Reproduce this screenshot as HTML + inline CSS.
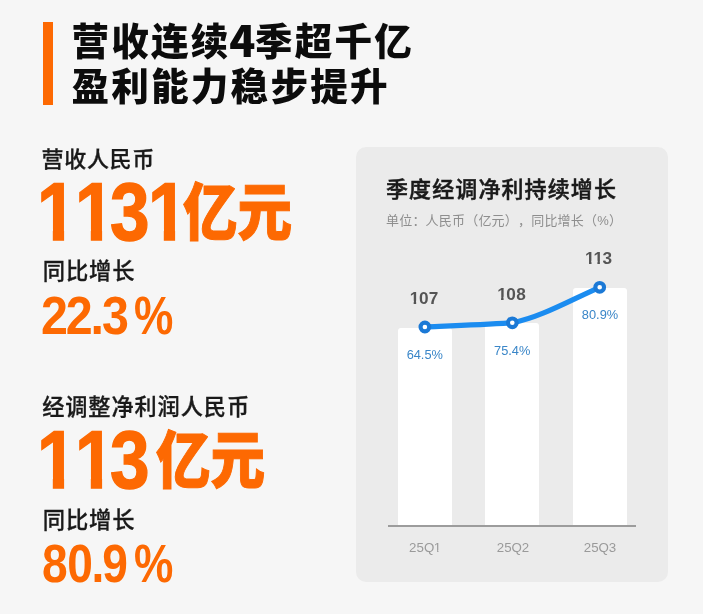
<!DOCTYPE html>
<html lang="zh-CN">
<head>
<meta charset="utf-8">
<title>营收连续4季超千亿</title>
<style>
  html, body { margin: 0; padding: 0; }
  body {
    width: 703px; height: 614px; overflow: hidden; position: relative;
    background: #f6f6f6;
    font-family: "Liberation Sans", "Noto Sans CJK SC", sans-serif;
    color: #1a1a1a;
  }
  .abs { position: absolute; white-space: nowrap; line-height: 1; }
  .bar-accent { position: absolute; left: 43px; top: 22px; width: 10px; height: 83px; background: #fd6902; }
  .title { left: 71.5px; font-size: 37.6px; font-weight: 900; letter-spacing: 2.2px; color: #0c0c0c;
           font-family: "Liberation Sans", "Noto Sans CJK SC", sans-serif; }
  .title .d { font-family: "Noto Sans CJK SC", "Liberation Sans", sans-serif; font-size: 43px; line-height: 0; margin: 0 -2.7px 0 -1.3px; position: relative; top: 2.4px; }
  .label { left: 41.5px; font-size: 22px; font-weight: 500; letter-spacing: 0.7px; color: #1a1a1a; -webkit-text-stroke: 0.3px #1a1a1a;
           font-family: "Liberation Sans", "Noto Sans CJK SC", sans-serif; }
  .big { left: 37px; color: #fd6902; font-family: "Liberation Sans", sans-serif; font-weight: 700; font-size: 81px; }
  .big span { display: inline-block; }
  .big .n { -webkit-text-stroke: 1.4px #fd6902; transform-origin: 0 0; transform: scaleX(0.877); }
  .big .o { clip-path: polygon(-0.1em -0.1em, 1.1em -0.1em, 1.1em 0.70em, 0.3815em 0.70em, 0.3815em 1.1em, 0.2225em 1.1em, 0.2225em 0.70em, -0.1em 0.70em); }
  .big .cjk { font-family: "Noto Sans CJK SC", sans-serif; font-weight: 900; font-size: 62.5px; line-height: 1;
         -webkit-text-stroke: 1px #fd6902; transform-origin: 0 0; transform: scaleX(0.873); position: relative; top: -5.35px; }
  .pct { color: #fd6902; font-weight: 700; font-size: 53px; font-family: "Liberation Sans", sans-serif; }
  .pct span { display: inline-block; transform-origin: 0 0; }
  .pct .dg { width: 92.7px; letter-spacing: -2.3px; transform: scaleX(0.913); }
  .pct .pc { transform: scaleX(0.835); }
  .card { position: absolute; left: 356px; top: 147px; width: 312px; height: 434.7px;
          background: #ebebeb; border-radius: 10px; }
  .ctitle { left: 386px; top: 178.6px; font-size: 22px; font-weight: 500; letter-spacing: 1.1px; color: #1a1a1a; -webkit-text-stroke: 0.5px #1a1a1a;
            font-family: "Liberation Sans", "Noto Sans CJK SC", sans-serif; }
  .csub { left: 386px; top: 214px; font-size: 13px; font-weight: 400; color: #8e8e8e; text-spacing-trim: space-all; letter-spacing: 0.2px;
          font-family: "Liberation Sans", "Noto Sans CJK SC", sans-serif; }
  .bar { position: absolute; background: #fff; border-radius: 3px 3px 0 0; }
  .axis { position: absolute; left: 388px; top: 525px; width: 248px; height: 2px; background: #9c9c9c; }
  .val { font-size: 17.2px; letter-spacing: 0.35px; font-weight: 700; color: #555; text-align: center; width: 60px;
         font-family: "Liberation Sans", sans-serif; }
  .rate { font-size: 12.8px; font-weight: 400; color: #3a86c8; text-align: center; width: 60px;
          font-family: "Liberation Sans", sans-serif; }
  .q { font-size: 13.3px; font-weight: 400; color: #9a9a9a; text-align: center; width: 60px; top: 541.2px;
       font-family: "Liberation Sans", sans-serif; }
  .val .o { display: inline-block; margin: 0 -0.045em;
            clip-path: polygon(-0.1em -0.1em, 1.1em -0.1em, 1.1em 0.62em, 0.375em 0.62em, 0.375em 1.1em, 0.229em 1.1em, 0.229em 0.62em, -0.1em 0.62em); }
  .q .o { display: inline-block; margin: 0 -0.03em;
          clip-path: polygon(-0.1em -0.1em, 1.1em -0.1em, 1.1em 0.66em, 0.345em 0.66em, 0.345em 1.1em, 0.246em 1.1em, 0.246em 0.66em, -0.1em 0.66em); }
  svg.line { position: absolute; left: 0; top: 0; }
</style>
</head>
<body>
  <div class="bar-accent"></div>
  <div class="abs title" id="t1" style="top:23.9px">营收连续<span class="d">4</span>季超千亿</div>
  <div class="abs title" id="t2" style="top:69.2px">盈利能力稳步提升</div>

  <div class="abs label" id="l1" style="top:148.7px">营收人民币</div>
  <div class="abs big" id="b1" style="top:172.3px"><span class="n o" style="width:38px">1</span><span class="n o" style="width:35.2px">1</span><span class="n" style="width:37.8px">3</span><span class="n o" style="width:35.3px">1</span><span class="cjk">亿元</span></div>
  <div class="abs label" id="l2" style="left:42.7px; top:261.4px; font-size:22.3px; letter-spacing:0.9px">同比增长</div>
  <div class="abs pct" id="p1" style="left:41.4px; top:288.9px"><span class="dg">22.3</span><span class="pc">%</span></div>

  <div class="abs label" id="l3" style="left:42.2px; top:397.2px; font-size:22.2px; letter-spacing:0.9px">经调整净利润人民币</div>
  <div class="abs big" id="b2" style="top:420.3px"><span class="n o" style="width:38px">1</span><span class="n o" style="width:35.2px">1</span><span class="n" style="width:45.8px">3</span><span class="cjk">亿元</span></div>
  <div class="abs label" id="l4" style="left:42.7px; top:509.5px; font-size:22.3px; letter-spacing:0.9px">同比增长</div>
  <div class="abs pct" id="p2" style="left:42px; top:537.1px"><span class="dg" style="width:92.2px; letter-spacing:-0.5px; transform:scaleX(0.87)">80<span style="margin:0 -2px 0 -1px">.</span>9</span><span class="pc">%</span></div>

  <div class="card"></div>
  <div class="abs ctitle" id="ct">季度经调净利持续增长</div>
  <div class="abs csub" id="cs">单位：人民币（亿元），同比增长（%）</div>

  <div class="bar" id="bar1" style="left:398.3px; top:327.5px; width:53.7px; height:198.5px;"></div>
  <div class="bar" id="bar2" style="left:485px; top:323.2px; width:53.6px; height:202.8px;"></div>
  <div class="bar" id="bar3" style="left:573.3px; top:287.6px; width:53.7px; height:238.4px;"></div>
  <div class="axis"></div>

  <div class="abs val" id="v1" style="left:394.6px; top:290.2px"><span class="o">1</span>07</div>
  <div class="abs val" id="v2" style="left:482px; top:286.2px"><span class="o">1</span>08</div>
  <div class="abs val" id="v3" style="left:569.2px; top:250.2px"><span class="o">1</span><span class="o">1</span>3</div>

  <svg class="line" width="703" height="614" viewBox="0 0 703 614">
    <path d="M424.9 327 C 454 325.8, 483 324.8, 512.3 322.8 C 541.4 317, 570.5 300, 599.7 287.3" fill="none" stroke="#1b8cf0" stroke-width="5.2" stroke-linecap="round" stroke-linejoin="round"/>
    <circle cx="424.9" cy="327" r="4.35" fill="#fff" stroke="#1b79d6" stroke-width="4.1"/>
    <circle cx="512.3" cy="322.8" r="4.35" fill="#fff" stroke="#1b79d6" stroke-width="4.1"/>
    <circle cx="599.7" cy="287.3" r="4.35" fill="#fff" stroke="#1b79d6" stroke-width="4.1"/>
  </svg>

  <div class="abs rate" id="r1" style="left:394.8px; top:348.8px">64.5%</div>
  <div class="abs rate" id="r2" style="left:482.2px; top:344.8px">75.4%</div>
  <div class="abs rate" id="r3" style="left:570px; top:309.4px">80.9%</div>

  <div class="abs q" id="q1" style="left:395px">25Q<span class="o">1</span></div>
  <div class="abs q" id="q2" style="left:483px">25Q2</div>
  <div class="abs q" id="q3" style="left:570px">25Q3</div>
</body>
</html>
